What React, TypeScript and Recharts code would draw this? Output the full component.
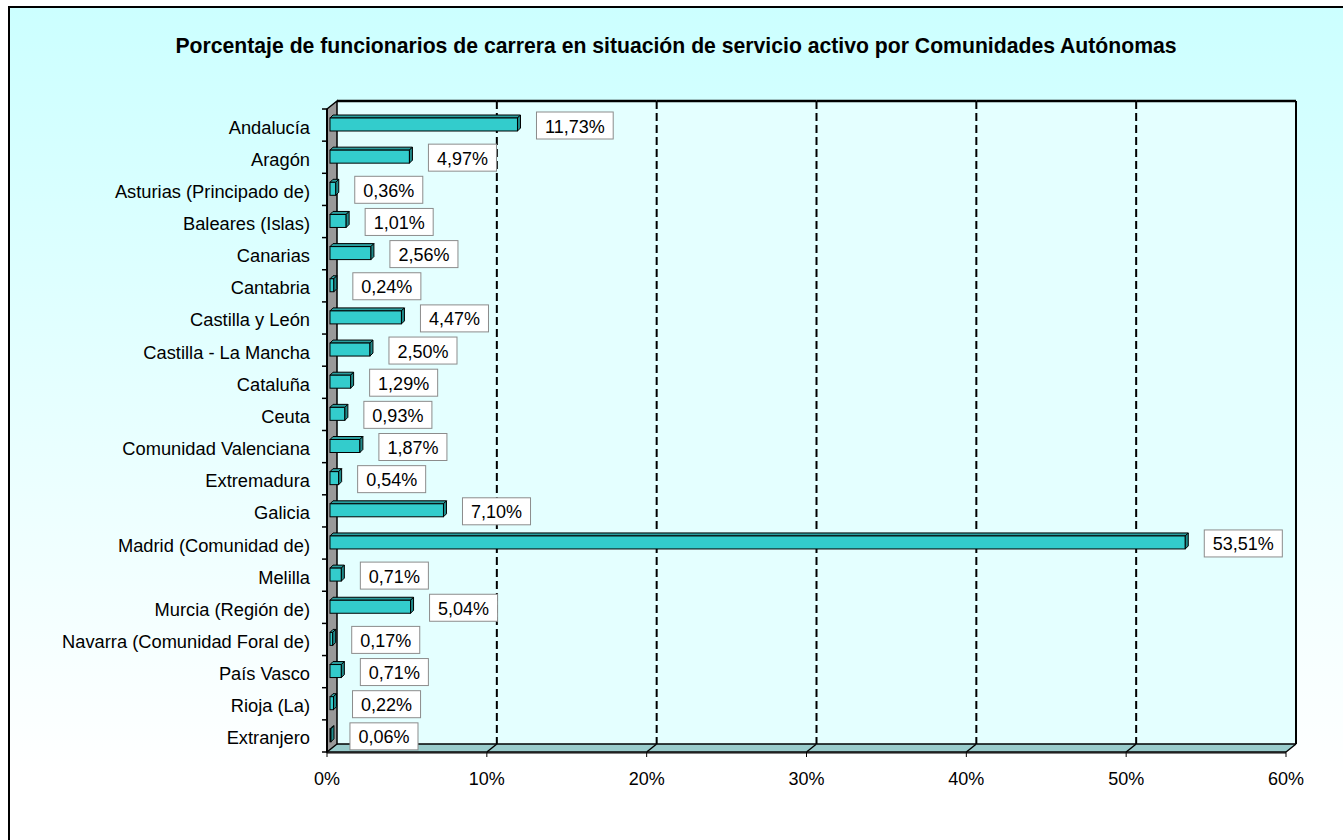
import React from 'react'
import { BarChart, Bar, XAxis, YAxis, ReferenceArea } from 'recharts'

// ─── Datos ────────────────────────────────────────────────────────────────────

const comunidades = [
  'Andalucía', 'Aragón', 'Asturias (Principado de)', 'Baleares (Islas)', 'Canarias',
  'Cantabria', 'Castilla y León', 'Castilla - La Mancha', 'Cataluña', 'Ceuta',
  'Comunidad Valenciana', 'Extremadura', 'Galicia', 'Madrid (Comunidad de)', 'Melilla',
  'Murcia (Región de)', 'Navarra (Comunidad Foral de)', 'País Vasco', 'Rioja (La)', 'Extranjero',
]

const porcentajes = [
  11.73, 4.97, 0.36, 1.01, 2.56,
  0.24, 4.47, 2.5, 1.29, 0.93,
  1.87, 0.54, 7.1, 53.51, 0.71,
  5.04, 0.17, 0.71, 0.22, 0.06,
]

const xTicks = [0, 10, 20, 30, 40, 50, 60]

const titulo = 'Porcentaje de funcionarios de carrera en situación de servicio activo por Comunidades Autónomas'

const data = comunidades.map((name, i) => ({ name, value: porcentajes[i] }))
const tramos = xTicks.slice(0, -1).map((t, i) => [t, xTicks[i + 1]])

// ─── Estilo ───────────────────────────────────────────────────────────────────

const FONT = 'Arial, "Liberation Sans", sans-serif'
const DX = 10 // profundidad 3D
const DY = 8

const ctx = typeof document !== 'undefined' ? document.createElement('canvas').getContext('2d') : null
function anchoTexto(s: string) {
  if (!ctx) return s.length * 10
  ctx.font = '18px "Liberation Sans", Arial'
  return ctx.measureText(s).width
}

function fmtPct(v: number) {
  return v.toFixed(2).replace('.', ',') + '%'
}

// ─── Barra 3D con etiqueta ────────────────────────────────────────────────────

function Barra3D(props: any) {
  const { x, y, width, height, payload } = props
  const fx = x + 3
  const fy = y - 1
  const w = Math.max(width, 0)
  const d = 3
  const h = height
  const txt = fmtPct(payload.value)
  const bw = anchoTexto(txt) + 17
  const bh = 27
  const bx = fx + w + d + 16
  const by = fy + h / 2 + 1 - bh / 2
  return (
    <g>
      <polygon
        points={`${fx},${fy} ${fx + d},${fy - d} ${fx + w + d},${fy - d} ${fx + w},${fy}`}
        fill="#2a9e9e" stroke="#000" strokeWidth={1}
      />
      <rect x={fx} y={fy} width={w} height={h} fill="#33cccc" stroke="#000" strokeWidth={1} />
      <polygon
        points={`${fx + w},${fy} ${fx + w + d},${fy - d} ${fx + w + d},${fy - d + h} ${fx + w},${fy + h}`}
        fill="#1f8a8a" stroke="#000" strokeWidth={1}
      />
      <rect x={bx} y={by} width={bw} height={bh} fill="#fff" stroke="#8c8c8c" strokeWidth={1} />
      <text x={bx + bw / 2} y={by + bh / 2 + 1} textAnchor="middle" dominantBaseline="central"
        fontSize={18} fontFamily={FONT} fill="#000">
        {txt}
      </text>
    </g>
  )
}

// ─── Paredes, suelo y rejilla ─────────────────────────────────────────────────

function tramoShape(i: number) {
  return (p: any) => {
    const { x, y, width: w, height: h } = p
    const n = comunidades.length
    const primero = i === 0
    const ultimo = i === tramos.length - 1
    return (
      <g>
        <rect x={x + DX} y={y - DY} width={w} height={h} fill="#e4ffff" />
        <polygon
          points={`${x},${y + h} ${x + DX},${y + h - DY} ${x + w + DX},${y + h - DY} ${x + w},${y + h}`}
          fill="#99cccc"
        />
        <rect x={x} y={y + h} width={w} height={2} fill="#808080" />
        <line x1={x} y1={y + h} x2={x + w} y2={y + h} stroke="#000" strokeWidth={1.5} />
        <line x1={x + DX} y1={y + h - DY} x2={x + w + DX} y2={y + h - DY} stroke="#000" strokeWidth={1.5} />
        <line x1={x + DX} y1={y - DY} x2={x + w + DX} y2={y - DY} stroke="#000" strokeWidth={2.5} />
        {!primero && (
          <g>
            <line x1={x + DX} y1={y - DY} x2={x + DX} y2={y + h - DY} stroke="#000" strokeWidth={2} strokeDasharray="8 4" />
            <line x1={x + DX} y1={y + h - DY} x2={x} y2={y + h} stroke="#000" strokeWidth={1.5} />
          </g>
        )}
        {primero && (
          <g>
            <polygon
              points={`${x},${y} ${x + DX},${y - DY} ${x + DX},${y + h - DY} ${x},${y + h}`}
              fill="#999999" stroke="#000" strokeWidth={1.5}
            />
            <line x1={x} y1={y} x2={x} y2={y + h} stroke="#000" strokeWidth={2} />
            {comunidades.map((_, k) => (
              <line key={k} x1={x - 5} y1={y + (h * k) / n} x2={x} y2={y + (h * k) / n} stroke="#000" strokeWidth={1.5} />
            ))}
            <line x1={x - 5} y1={y + h} x2={x} y2={y + h} stroke="#000" strokeWidth={1.5} />
          </g>
        )}
        {ultimo && (
          <g>
            <line x1={x + w + DX} y1={y - DY} x2={x + w + DX} y2={y + h - DY} stroke="#000" strokeWidth={2} />
            <line x1={x + w + DX} y1={y + h - DY} x2={x + w} y2={y + h} stroke="#000" strokeWidth={1.5} />
          </g>
        )}
      </g>
    )
  }
}

// ─── App ──────────────────────────────────────────────────────────────────────

export default function App() {
  return (
    <div style={{ position: 'absolute', left: 0, top: 0, width: 1343, height: 840, overflow: 'hidden', background: '#fff' }}>
      <div
        style={{
          position: 'absolute', left: 8, top: 6, width: 1420, height: 900,
          border: '2.5px solid #000',
          background: 'linear-gradient(#ccffff 0px, #ffffff 770px)',
        }}
      />
      <div
        style={{
          position: 'absolute', left: 76, top: 34, width: 1200, textAlign: 'center',
          fontFamily: FONT, fontWeight: 'bold', fontSize: 21.2, color: '#000', whiteSpace: 'nowrap',
        }}
      >
        {titulo}
      </div>
      <div style={{ position: 'absolute', left: 0, top: 0 }}>
        <BarChart
          width={1343}
          height={840}
          data={data}
          layout="vertical"
          margin={{ top: 109, right: 57, bottom: 58, left: 27 }}
          barSize={13}
        >
          {tramos.map(([a, b], i) => (
            <ReferenceArea key={i} x1={a} x2={b} ifOverflow="visible" shape={tramoShape(i)} />
          ))}
          <XAxis
            type="number"
            domain={[0, 60]}
            ticks={xTicks}
            tickFormatter={(v) => `${v}%`}
            axisLine={false}
            tickLine={{ stroke: '#000' }}
            tickSize={5}
            tickMargin={15}
            height={30}
            tick={{ fontSize: 18, fill: '#000', fontFamily: FONT }}
          />
          <YAxis
            type="category"
            dataKey="name"
            width={300}
            axisLine={false}
            tickLine={false}
            tickSize={0}
            tickMargin={17}
            interval={0}
            tick={{ fontSize: 18.3, fill: '#000', fontFamily: FONT, dy: 2 }}
          />
          <Bar dataKey="value" shape={Barra3D} isAnimationActive={false} />
        </BarChart>
      </div>
    </div>
  )
}
